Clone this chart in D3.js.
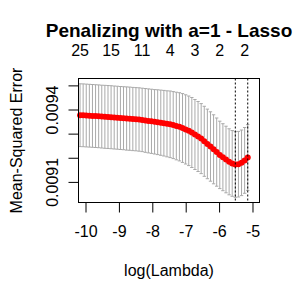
<!DOCTYPE html>
<html>
<head>
<meta charset="utf-8">
<script src="https://cdn.jsdelivr.net/npm/d3@7"></script>
<style>
body { margin: 0; background: #fff; }
svg text { font-family: "Liberation Sans", Arial, sans-serif; fill: #000; }
</style>
</head>
<body>
<div id="cvplot"></div>
<script>
// cv.glmnet output
var logLambda = [-10.164, -10.071, -9.978, -9.885, -9.792, -9.699, -9.606, -9.513, -9.420, -9.327,
  -9.234, -9.141, -9.048, -8.955, -8.862, -8.769, -8.676, -8.583, -8.490, -8.397,
  -8.304, -8.211, -8.118, -8.025, -7.932, -7.839, -7.746, -7.653, -7.560, -7.467,
  -7.374, -7.281, -7.188, -7.095, -7.002, -6.909, -6.816, -6.723, -6.630, -6.537,
  -6.444, -6.351, -6.258, -6.165, -6.072, -5.979, -5.886, -5.793, -5.700, -5.607,
  -5.514, -5.421, -5.328, -5.235, -5.142];
var cvm = [0.0093764, 0.0093760, 0.0093751, 0.0093743, 0.0093735, 0.0093726, 0.0093718, 0.0093706, 0.0093697, 0.0093689,
  0.0093681, 0.0093668, 0.0093660, 0.0093648, 0.0093639, 0.0093627, 0.0093619, 0.0093606, 0.0093598, 0.0093586,
  0.0093569, 0.0093548, 0.0093528, 0.0093511, 0.0093490, 0.0093474, 0.0093453, 0.0093432, 0.0093407, 0.0093387,
  0.0093354, 0.0093316, 0.0093283, 0.0093233, 0.0093175, 0.0093117, 0.0093047, 0.0092964, 0.0092881, 0.0092794,
  0.0092682, 0.0092574, 0.0092467, 0.0092351, 0.0092235, 0.0092119, 0.0092023, 0.0091928, 0.0091833, 0.0091766,
  0.0091721, 0.0091733, 0.0091791, 0.0091891, 0.0092011];
var cvsd = [0.0001301, 0.0001301, 0.0001301, 0.0001301, 0.0001301, 0.0001301, 0.0001301, 0.0001301, 0.0001305, 0.0001305,
  0.0001305, 0.0001305, 0.0001305, 0.0001305, 0.0001305, 0.0001310, 0.0001310, 0.0001310, 0.0001310, 0.0001314,
  0.0001314, 0.0001322, 0.0001326, 0.0001330, 0.0001334, 0.0001343, 0.0001351, 0.0001359, 0.0001368, 0.0001380,
  0.0001388, 0.0001401, 0.0001413, 0.0001426, 0.0001434, 0.0001442, 0.0001451, 0.0001451, 0.0001451, 0.0001451,
  0.0001451, 0.0001442, 0.0001438, 0.0001430, 0.0001413, 0.0001397, 0.0001388, 0.0001380, 0.0001368, 0.0001363,
  0.0001359, 0.0001359, 0.0001359, 0.0001363, 0.0001363];

// number of nonzero coefs along the top
var nzAt = [-10.164, -9.234, -8.304, -7.467, -6.723, -5.979, -5.235];
var nzLabels = ["25", "15", "11", "4", "3", "2", "2"];

var lambdaMin = -5.514, lambda1se = -5.142;

var xTicks = [-10, -9, -8, -7, -6, -5];
var yTicks = [0.0091, 0.0092, 0.0093, 0.0094, 0.0095];
var yTickLabels = ["0.0091", "", "", "0.0094", ""];

var margin = {top: 78, right: 41, bottom: 98, left: 78},
    width = 300 - margin.left - margin.right,
    height = 300 - margin.top - margin.bottom;

var svg = d3.select("#cvplot")
  .append("svg")
    .attr("width", 300)
    .attr("height", 300)
  .append("g")
    .attr("transform", "translate(" + (margin.left + 0.5) + "," + (margin.top + 0.5) + ")");

var x = d3.scaleLinear()
  .domain([-10.21, -4.79])
  .range([0, width]);

var y = d3.scaleLinear()
  .domain([0.0090146, 0.0095285])
  .range([height, 0]);

var pts = logLambda.map(function(l, i) {
  return {l: l, m: cvm[i], up: cvm[i] + cvsd[i], lo: cvm[i] - cvsd[i]};
});

// error bars (darkgrey), caps 0.05 either side like glmnet
var barw = 0.05;
var bars = svg.append("g")
  .attr("stroke", "#a9a9a9")
  .attr("stroke-width", 1)
  .attr("fill", "none");
bars.selectAll("path")
  .data(pts)
  .enter().append("path")
    .attr("d", function(d) {
      var x0 = x(d.l), xl = x(d.l - barw), xr = x(d.l + barw);
      return "M" + x0 + "," + y(d.up) + "V" + y(d.lo) +
             "M" + xl + "," + y(d.up) + "H" + xr +
             "M" + xl + "," + y(d.lo) + "H" + xr;
    });

// red points
svg.append("g")
  .selectAll("circle")
  .data(pts)
  .enter().append("circle")
    .attr("cx", function(d) { return x(d.l); })
    .attr("cy", function(d) { return y(d.m); })
    .attr("r", 3)
    .attr("fill", "#ff0000");

// dotted lines at lambda.min and lambda.1se
svg.selectAll("vline")
  .data([lambdaMin, lambda1se])
  .enter().append("line")
    .attr("x1", function(d) { return x(d); })
    .attr("x2", function(d) { return x(d); })
    .attr("y1", 0)
    .attr("y2", height)
    .attr("stroke", "#000")
    .attr("stroke-dasharray", "2,2");

// box
svg.append("rect")
  .attr("width", width)
  .attr("height", height)
  .attr("fill", "none")
  .attr("stroke", "#000");

// bottom axis
var xAxis = svg.append("g")
  .attr("transform", "translate(0," + height + ")")
  .call(d3.axisBottom(x).tickValues(xTicks).tickSize(10).tickPadding(13)
    .tickFormat(function(d) { return String(d); }));
xAxis.select(".domain").remove();
xAxis.selectAll("line").attr("stroke", "#000");
xAxis.selectAll("text").style("font-size", "16px");

// left axis, labels parallel to the axis
var yAxis = svg.append("g")
  .call(d3.axisLeft(y).tickValues(yTicks).tickSize(10)
    .tickFormat(function(d, i) { return yTickLabels[i]; }));
yAxis.select(".domain").remove();
yAxis.selectAll("line").attr("stroke", "#000");
yAxis.selectAll("text")
  .attr("x", null)
  .attr("dy", null)
  .attr("text-anchor", "middle")
  .attr("transform", "translate(-21,0) rotate(-90)")
  .style("font-size", "16px");

// top labels
svg.selectAll("nz")
  .data(nzAt)
  .enter().append("text")
    .attr("x", function(d) { return x(d); })
    .attr("y", -23)
    .attr("text-anchor", "middle")
    .style("font-size", "16px")
    .text(function(d, i) { return nzLabels[i]; });

// title and axis titles
svg.append("text")
  .attr("x", width / 2)
  .attr("y", -42)
  .attr("text-anchor", "middle")
  .style("font-size", "19px")
  .style("font-weight", "bold")
  .text("Penalizing with a=1 - Lasso");

svg.append("text")
  .attr("x", width / 2)
  .attr("y", 197)
  .attr("text-anchor", "middle")
  .style("font-size", "16px")
  .text("log(Lambda)");

svg.append("text")
  .attr("transform", "translate(-57," + (height / 2) + ") rotate(-90)")
  .attr("text-anchor", "middle")
  .style("font-size", "16px")
  .text("Mean-Squared Error");
</script>
</body>
</html>
